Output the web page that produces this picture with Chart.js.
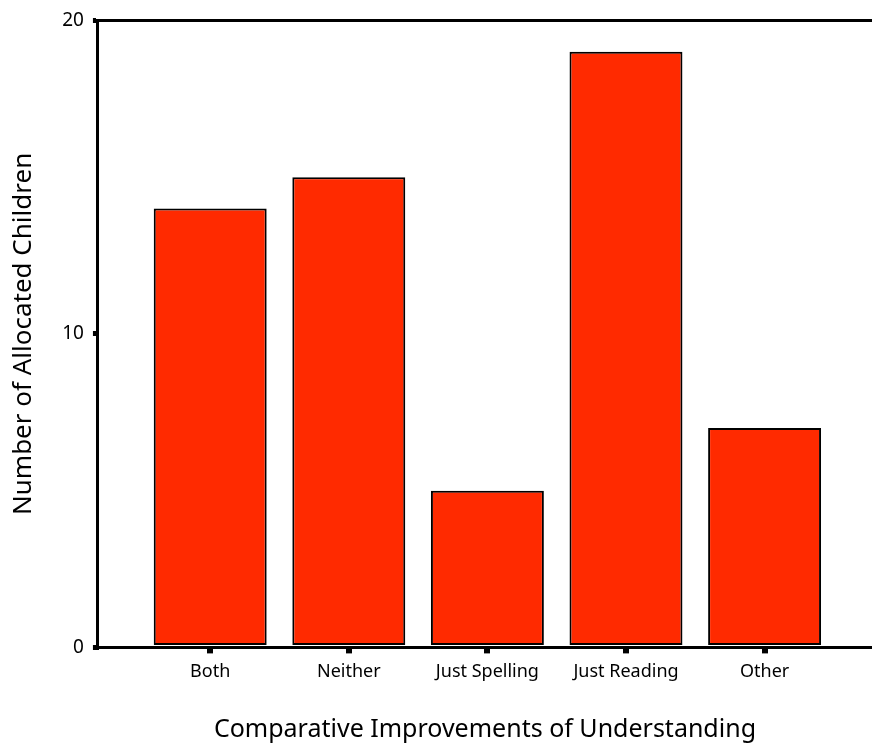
<!DOCTYPE html>
<html>
<head>
<meta charset="utf-8">
<script src="https://cdn.jsdelivr.net/npm/chart.js@4/dist/chart.umd.min.js"></script>
<style>
  html, body { margin: 0; padding: 0; background: #fff; }
  #wrap { width: 872px; height: 745px; }
</style>
</head>
<body>
<div id="wrap"><canvas id="c"></canvas></div>
<script>
// 数据
const categories = ['Both', 'Neither', 'Just Spelling', 'Just Reading', 'Other'];
const counts = [14, 15, 5, 19, 7];
const yTicks = [0, 10, 20];

const FONT = '"Noto Sans", "DejaVu Sans", sans-serif';

// top frame line
const topLine = {
    id: 'topLine',
    afterDraw(chart) {
        const { ctx, chartArea } = chart;
        ctx.save();
        ctx.strokeStyle = '#000';
        ctx.lineWidth = 3;
        ctx.beginPath();
        ctx.moveTo(chartArea.left - 1.5, chartArea.top);
        ctx.lineTo(chartArea.right, chartArea.top);
        ctx.stroke();
        ctx.restore();
    }
};

new Chart(document.getElementById('c'), {
    type: 'bar',
    data: {
        datasets: [{
            data: categories.map((c, i) => ({ x: i, y: counts[i] })),
            backgroundColor: '#ff2a00',
            borderColor: '#000',
            borderWidth: 2,
            borderSkipped: false,
            categoryPercentage: 1,
            barPercentage: 0.815
        }]
    },
    options: {
        responsive: true,
        maintainAspectRatio: false,
        animation: false,
        layout: { padding: { top: 12, right: 0, left: 8, bottom: 0 } },
        plugins: {
            legend: { display: false },
            tooltip: { enabled: false }
        },
        scales: {
            x: {
                type: 'linear',
                offset: false,
                min: -0.81,
                max: 4.775,
                afterBuildTicks: s => { s.ticks = categories.map((c, i) => ({ value: i })); },
                ticks: {
                    callback: v => categories[v] ?? '',
                    color: '#000',
                    font: { family: FONT, size: 18 },
                    padding: 8,
                    maxRotation: 0,
                    autoSkip: false
                },
                grid: {
                    offset: false,
                    drawOnChartArea: false,
                    drawTicks: true,
                    tickLength: 6,
                    lineWidth: 6,
                    color: '#000'
                },
                border: { display: true, color: '#000', width: 3 },
                title: {
                    display: true,
                    text: 'Comparative Improvements of Understanding',
                    color: '#000',
                    font: { family: FONT, size: 25 },
                    padding: { top: 24, bottom: 0 }
                }
            },
            y: {
                min: 0,
                max: 20,
                afterBuildTicks: s => { s.ticks = yTicks.map(v => ({ value: v })); },
                ticks: {
                    color: '#000',
                    font: { family: FONT, size: 19 },
                    padding: 9
                },
                grid: {
                    drawOnChartArea: false,
                    drawTicks: true,
                    tickLength: 5,
                    lineWidth: 5,
                    color: '#000'
                },
                border: { display: true, color: '#000', width: 3 },
                title: {
                    display: true,
                    text: 'Number of Allocated Children',
                    color: '#000',
                    font: { family: FONT, size: 26 },
                    padding: { top: 0, bottom: 14 }
                }
            }
        }
    },
    plugins: [topLine]
});
</script>
</body>
</html>
